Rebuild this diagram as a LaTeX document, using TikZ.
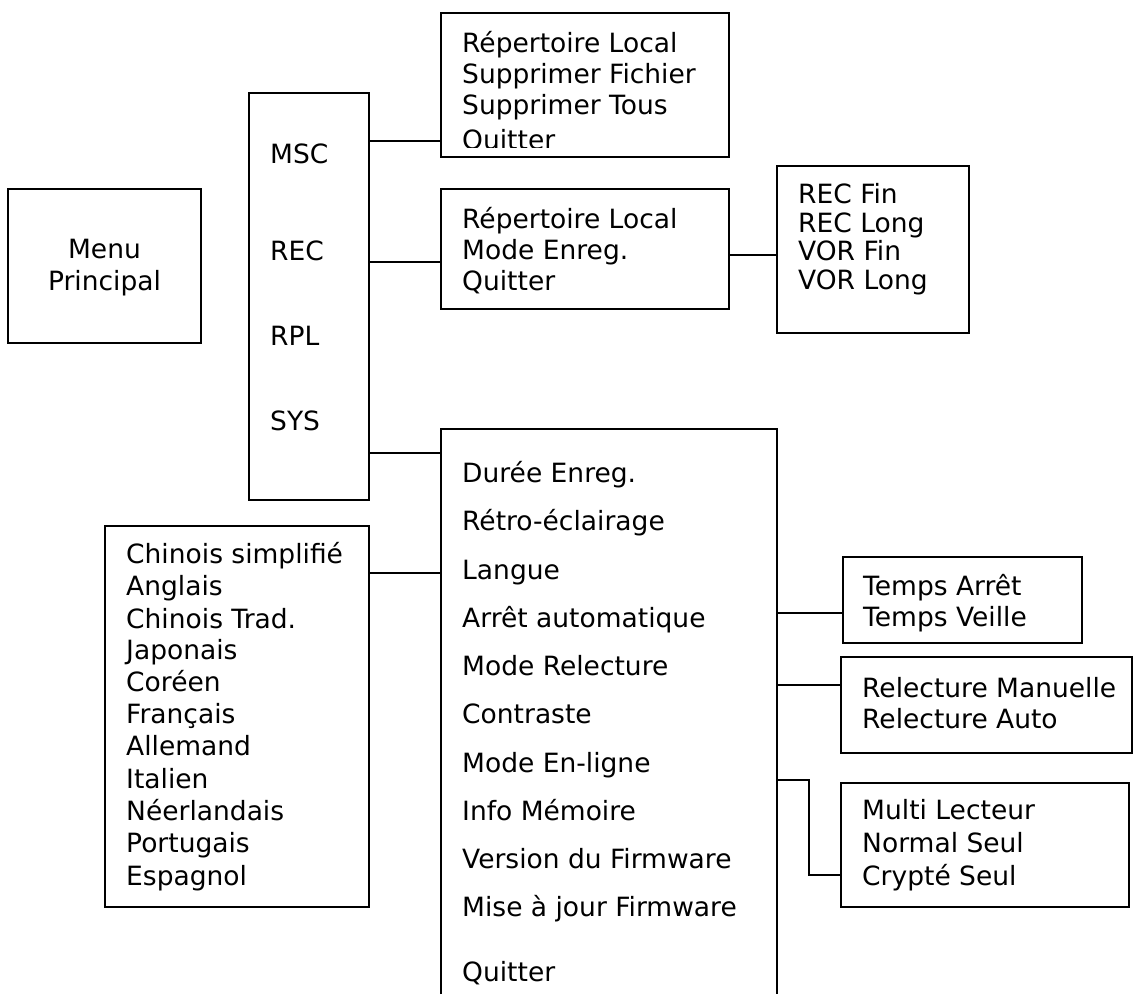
\documentclass[tikz,border=0pt]{standalone}
\usepackage{fontspec}
\setmainfont{DejaVu Sans}
\begin{document}
\begin{tikzpicture}[x=1pt,y=-1pt,
  box/.style={draw, line width=1.8pt, rectangle, inner sep=0pt, outer sep=0pt, anchor=north west},
  openbox/.style={rectangle, inner sep=0pt, outer sep=0pt, anchor=north west},
  txt/.style={anchor=base west, inner sep=0pt, font=\fontsize{26.5pt}{31pt}\selectfont},
  ctxt/.style={anchor=base, inner sep=0pt, font=\fontsize{26.5pt}{31pt}\selectfont},
  conn/.style={line width=1.8pt}]
\useasboundingbox (0,0) rectangle (1134,994);

% boxes
\node[box, minimum width=193pt, minimum height=154pt] (menu) at (8,189) {};
\node[box, minimum width=120pt, minimum height=407pt] (main) at (249,93) {};
\node[box, minimum width=288pt, minimum height=144pt] (msc) at (441,13) {};
\node[box, minimum width=288pt, minimum height=120pt] (rec) at (441,189) {};
\node[box, minimum width=192pt, minimum height=167pt] (recsub) at (777,166) {};
\node[openbox, minimum width=336pt, minimum height=565pt] (sys) at (441,429) {};
\node[box, minimum width=264pt, minimum height=381pt] (lang) at (105,526) {};
\node[box, minimum width=239pt, minimum height=86pt] (temps) at (843,557) {};
\node[box, minimum width=291pt, minimum height=96pt] (relec) at (841,657) {};
\node[box, minimum width=288pt, minimum height=124pt] (multi) at (841,783) {};
\draw[conn] (sys.south west) -- (sys.north west) -- (sys.north east) -- (sys.south east);

% menu principal
\node[ctxt] (tmenu1) at (104.5,258) {Menu};
\node[ctxt] (tmenu2) at (104.5,290) {Principal};

% main menu entries
\node[txt] (tmsc) at (270,163) {MSC};
\node[txt] (trec) at (270,260) {REC};
\node[txt] (trpl) at (270,345) {RPL};
\node[txt] (tsys) at (270,430) {SYS};

% MSC submenu
\node[txt] (m1) at (462,52) {Répertoire Local};
\node[txt] (m2) at (462,83) {Supprimer Fichier};
\node[txt] (m3) at (462,114) {Supprimer Tous};
\begin{scope}
  \clip (441,13) rectangle (729,147);
  \node[txt] (m4) at (462,149) {Quitter};
\end{scope}

% REC submenu
\node[txt] (r1) at (462,228) {Répertoire Local};
\node[txt] (r2) at (462,259) {Mode Enreg.};
\node[txt] (r3) at (462,290) {Quitter};

% REC mode submenu
\node[txt] (q1) at (798,203) {REC Fin};
\node[txt] (q2) at (798,232) {REC Long};
\node[txt] (q3) at (798,260) {VOR Fin};
\node[txt] (q4) at (798,289) {VOR Long};

% SYS submenu
\node[txt] (s1) at (462,482) {Durée Enreg.};
\node[txt] (s2) at (462,530) {Rétro-éclairage};
\node[txt] (s3) at (462,579) {Langue};
\node[txt] (s4) at (462,627) {Arrêt automatique};
\node[txt] (s5) at (462,675) {Mode Relecture};
\node[txt] (s6) at (462,723) {Contraste};
\node[txt] (s7) at (462,772) {Mode En-ligne};
\node[txt] (s8) at (462,820) {Info Mémoire};
\node[txt] (s9) at (462,868) {Version du Firmware};
\node[txt] (s10) at (462,916) {Mise à jour Firmware};
\node[txt] (s11) at (462,981) {Quitter};

% languages
\node[txt] (l1) at (126,563) {Chinois simplifié};
\node[txt] (l2) at (126,595) {Anglais};
\node[txt] (l3) at (126,628) {Chinois Trad.};
\node[txt] (l4) at (126,659) {Japonais};
\node[txt] (l5) at (126,691) {Coréen};
\node[txt] (l6) at (126,723) {Français};
\node[txt] (l7) at (126,755) {Allemand};
\node[txt] (l8) at (126,788) {Italien};
\node[txt] (l9) at (126,820) {Néerlandais};
\node[txt] (l10) at (126,852) {Portugais};
\node[txt] (l11) at (126,885) {Espagnol};

% auto-off
\node[txt] (t1) at (863,595) {Temps Arrêt};
\node[txt] (t2) at (863,626) {Temps Veille};

% replay mode
\node[txt] (p1) at (862,697) {Relecture Manuelle};
\node[txt] (p2) at (862,728) {Relecture Auto};

% online mode
\node[txt] (o1) at (862,819) {Multi Lecteur};
\node[txt] (o2) at (862,852) {Normal Seul};
\node[txt] (o3) at (862,885) {Crypté Seul};

% connector levels
\coordinate (yMSC) at (0,141);
\coordinate (yREC) at (0,262);
\coordinate (yRECsub) at (0,255);
\coordinate (ySYS) at (0,453);
\coordinate (yLang) at (0,573);
\coordinate (yTemps) at (0,613);
\coordinate (yRelec) at (0,685);
\coordinate (elbA) at (809,780);
\coordinate (elbB) at (809,875);

\draw[conn] (main.east |- yMSC) -- (msc.west |- yMSC);
\draw[conn] (main.east |- yREC) -- (rec.west |- yREC);
\draw[conn] (rec.east |- yRECsub) -- (recsub.west |- yRECsub);
\draw[conn] (main.east |- ySYS) -- (sys.west |- ySYS);
\draw[conn] (lang.east |- yLang) -- (sys.west |- yLang);
\draw[conn] (sys.east |- yTemps) -- (temps.west |- yTemps);
\draw[conn] (sys.east |- yRelec) -- (relec.west |- yRelec);
\draw[conn] (sys.east |- elbA) -- (elbA) -- (elbB) -- (multi.west |- elbB);
\end{tikzpicture}
\end{document}
